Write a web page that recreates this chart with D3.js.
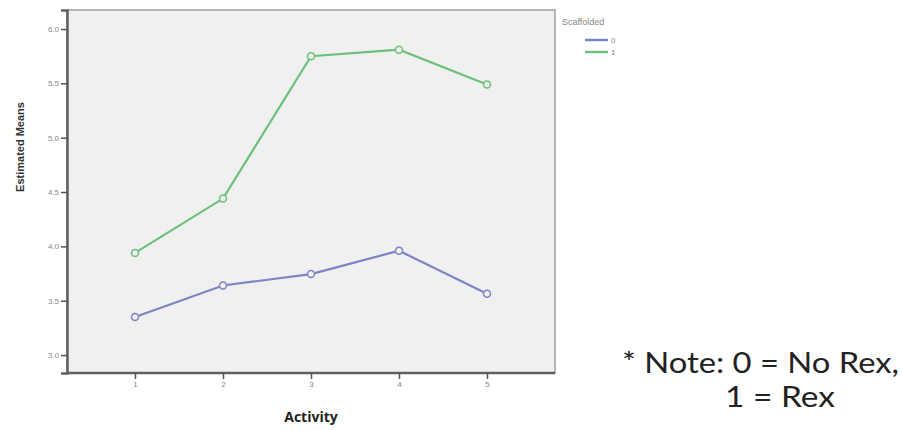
<!DOCTYPE html>
<html><head><meta charset="utf-8">
<script src="https://cdn.jsdelivr.net/npm/d3@7"></script>
<style>body{margin:0;background:#fff;} svg{display:block;}</style>
</head><body>
<script>
const activities = [1, 2, 3, 4, 5];
const scaffolded0 = [3.35, 3.64, 3.745, 3.96, 3.565];
const scaffolded1 = [3.94, 4.44, 5.75, 5.81, 5.49];
const yTicks = [3.0, 3.5, 4.0, 4.5, 5.0, 5.5, 6.0];
const seriesNames = ["0", "1"];
const seriesColors = ["#7b84c4", "#6cc07a"];

const W = 902, H = 430;
const svg = d3.select("body").append("svg").attr("width", W).attr("height", H);
const L = 67, R = 555, T = 10, B = 373;

const x = d3.scalePoint().domain(activities).range([135, 487]);
const y = d3.scaleLinear().domain([2.835, 6.175]).range([B, T]);

svg.append("rect").attr("x", L).attr("y", T).attr("width", R - L).attr("height", B - T)
  .attr("fill", "#f0f0f0").attr("stroke", "#a0a0a0").attr("stroke-width", 1.5);

const yAxis = svg.append("g").attr("transform", `translate(${L},0)`)
  .call(d3.axisLeft(y).tickValues(yTicks).tickFormat(d3.format(".1f")).tickSize(6).tickPadding(2));
yAxis.select(".domain").attr("stroke", "#606060").attr("stroke-width", 2.5);
yAxis.selectAll(".tick line").attr("stroke", "#555").attr("stroke-width", 1.5);
yAxis.selectAll(".tick text").attr("font-family", "Liberation Sans, Arial, sans-serif")
  .attr("font-size", 8).attr("fill", "#888");

const xAxis = svg.append("g").attr("transform", `translate(0,${B})`)
  .call(d3.axisBottom(x).tickSize(6).tickPadding(2));
xAxis.select(".domain").attr("d", `M${L},0H${R}`).attr("stroke", "#606060").attr("stroke-width", 2.5);
xAxis.selectAll(".tick line").attr("stroke", "#555").attr("stroke-width", 1.5);
xAxis.selectAll(".tick text").attr("font-family", "Liberation Sans, Arial, sans-serif")
  .attr("font-size", 8).attr("fill", "#888");

const series = [scaffolded0, scaffolded1];
const line = d3.line().x((d, i) => x(activities[i])).y(d => y(d));
series.forEach((vals, s) => {
  svg.append("path").datum(vals).attr("d", line).attr("fill", "none")
    .attr("stroke", seriesColors[s]).attr("stroke-width", 2.2);
  svg.selectAll(null).data(vals).enter().append("circle")
    .attr("cx", (d, i) => x(activities[i])).attr("cy", d => y(d)).attr("r", 3.5)
    .attr("fill", "#f0f0f0").attr("stroke", seriesColors[s]).attr("stroke-width", 1.5);
});

svg.append("text").attr("transform", `translate(24,147) rotate(-90)`)
  .attr("text-anchor", "middle").attr("font-family", "Liberation Sans Narrow, Liberation Sans, Arial, sans-serif")
  .attr("font-weight", "bold").attr("font-size", 11).attr("fill", "#333").text("Estimated Means");

svg.append("text").attr("x", 311).attr("y", 422).attr("text-anchor", "middle")
  .attr("font-family", "Open Sans, sans-serif").attr("font-weight", "bold")
  .attr("font-size", 14).attr("fill", "#222").text("Activity");

// legend
const lg = svg.append("g");
lg.append("text").attr("x", 562).attr("y", 25).attr("font-family", "Liberation Sans, Arial, sans-serif")
  .attr("font-size", 9).attr("fill", "#888").text("Scaffolded");
seriesNames.forEach((n, i) => {
  const yy = 40 + i * 12;
  lg.append("line").attr("x1", 585).attr("x2", 608).attr("y1", yy).attr("y2", yy)
    .attr("stroke", seriesColors[i]).attr("stroke-width", 2.5);
  lg.append("text").attr("x", 611).attr("y", yy + 3).attr("font-family", "Liberation Sans, Arial, sans-serif")
    .attr("font-size", 8).attr("fill", "#888").text(n);
});

svg.append("text").attr("x", 622).attr("y", 373).attr("font-family", "Lato, Open Sans, sans-serif")
  .attr("font-size", 28).attr("fill", "#222")
  .attr("textLength", 277).attr("lengthAdjust", "spacingAndGlyphs").text("* Note: 0 = No Rex,");
svg.append("text").attr("x", 725).attr("y", 407).attr("font-family", "Lato, Open Sans, sans-serif")
  .attr("font-size", 28).attr("fill", "#222")
  .attr("textLength", 110).attr("lengthAdjust", "spacingAndGlyphs").text("1 = Rex");
</script>
</body></html>
